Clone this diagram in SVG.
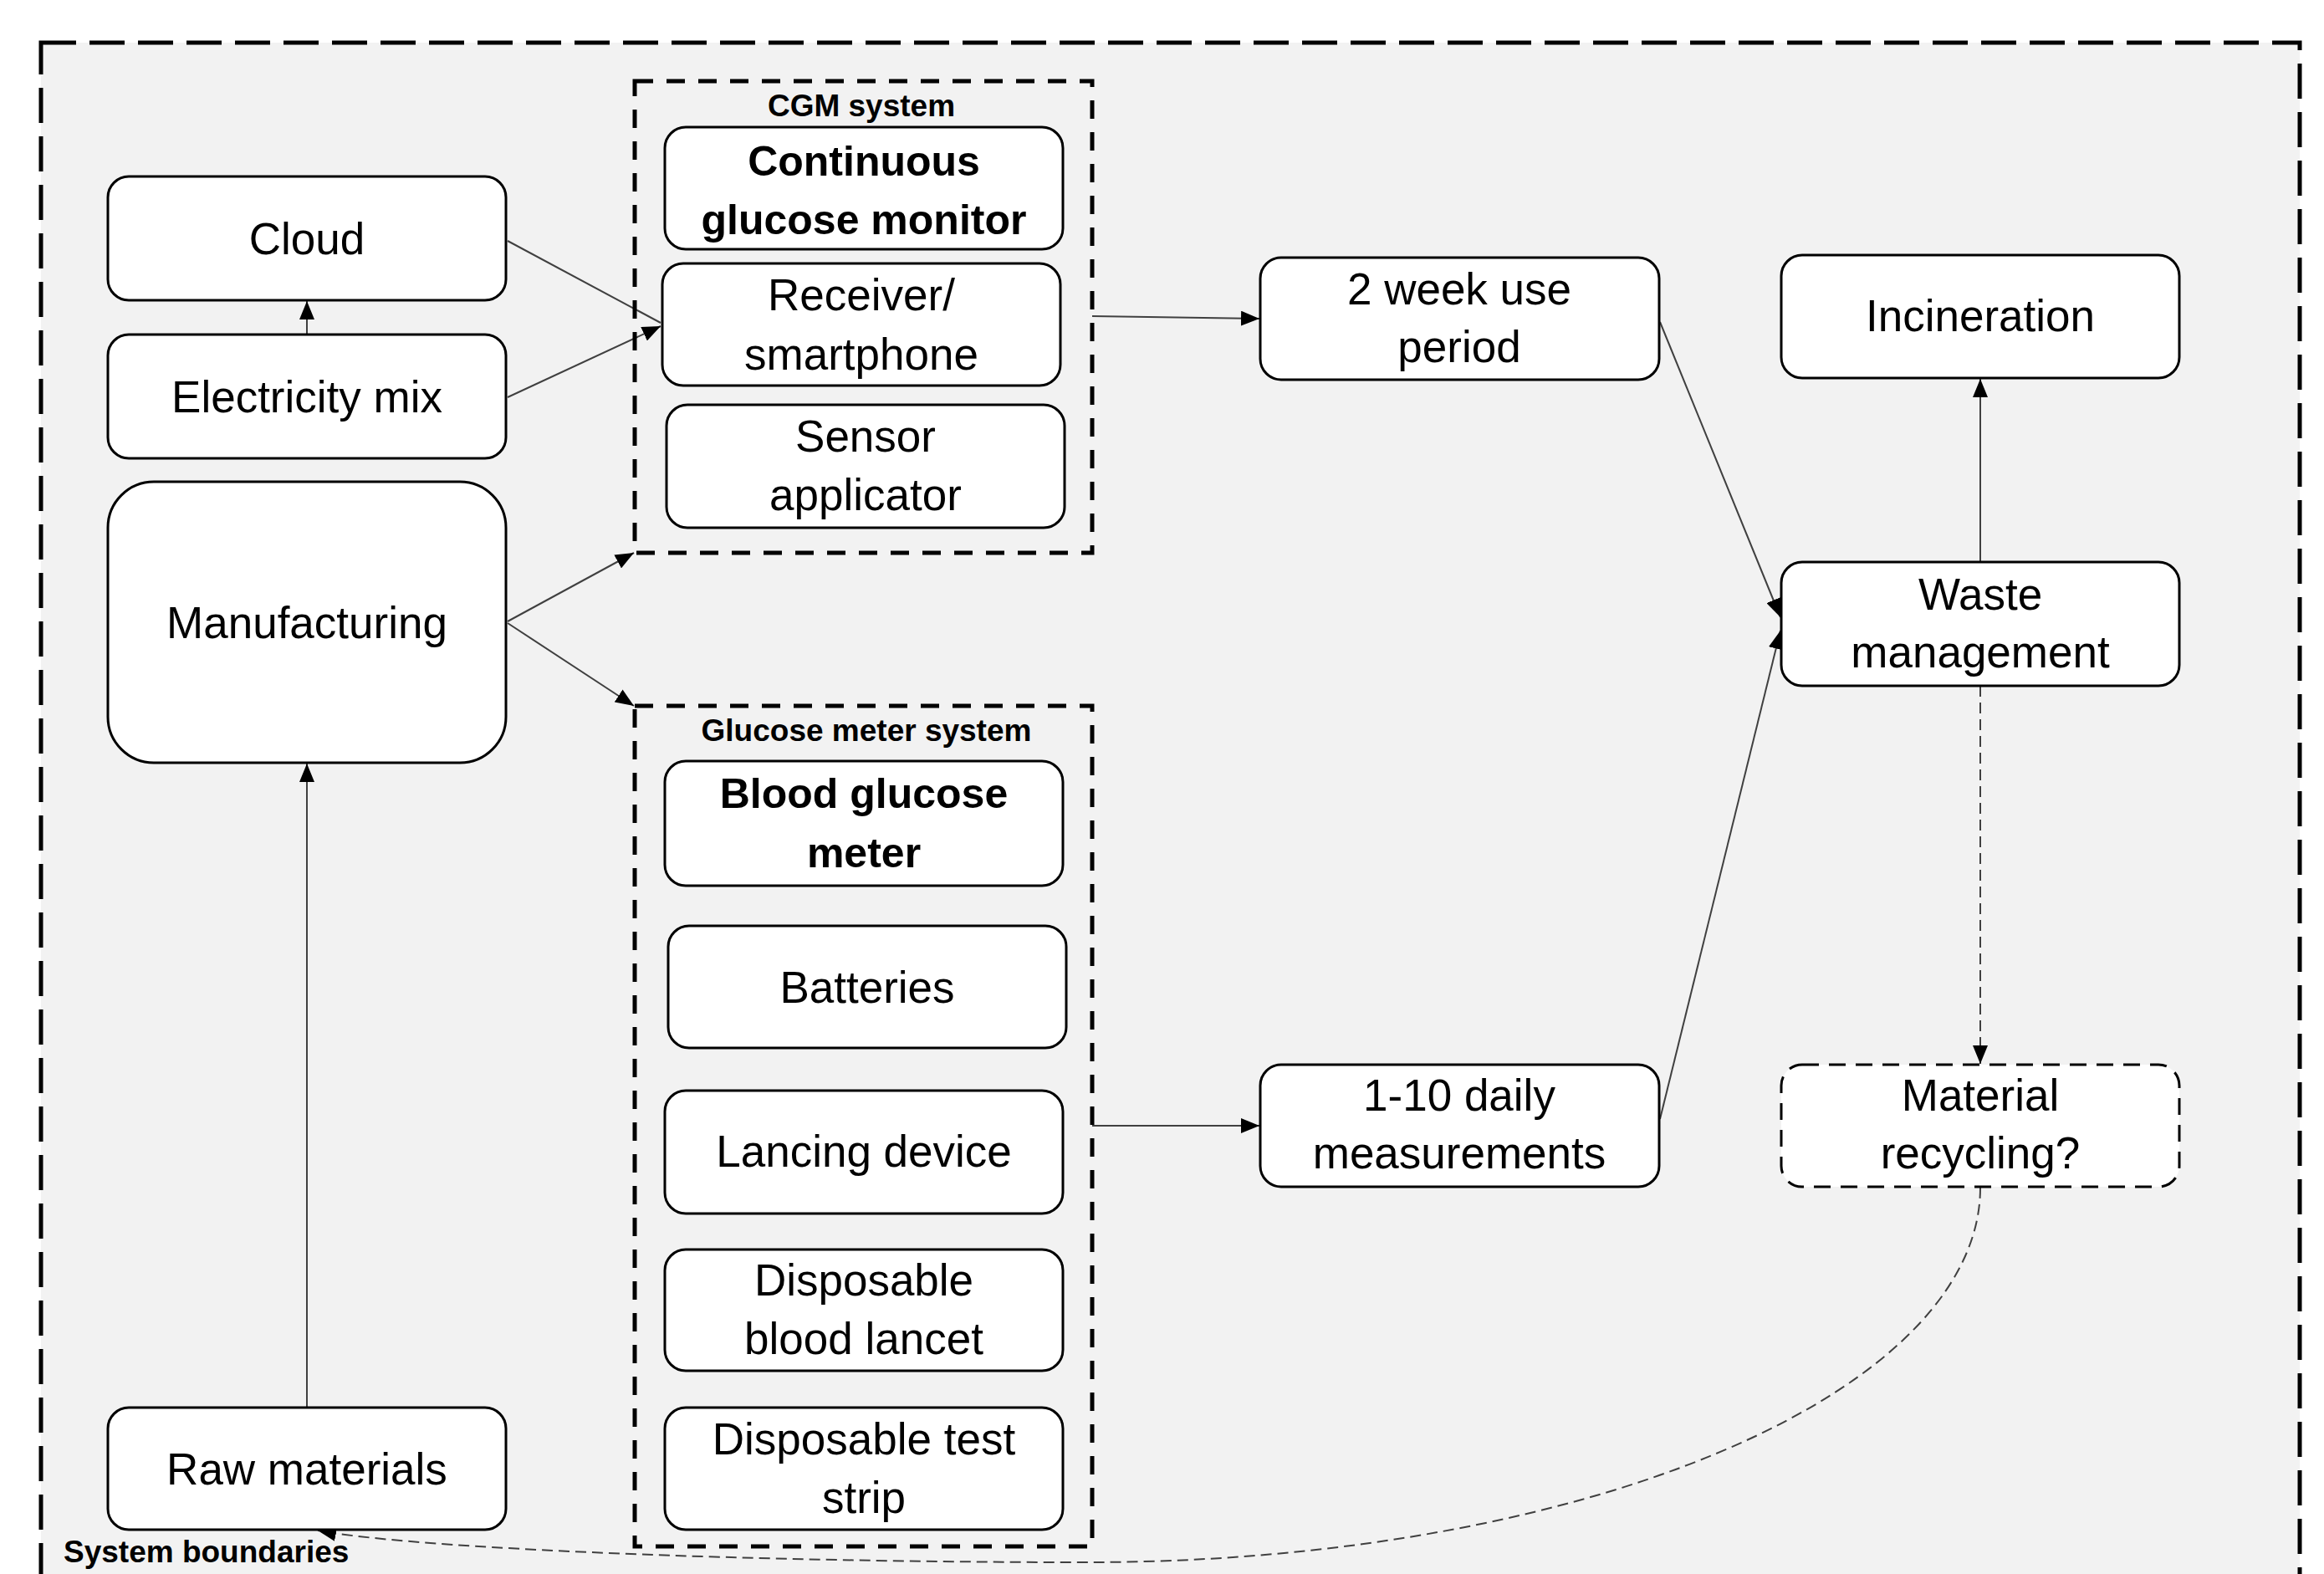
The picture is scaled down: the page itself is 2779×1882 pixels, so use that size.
<svg xmlns="http://www.w3.org/2000/svg" width="2779" height="1882" viewBox="0 0 2779 1882">
<style>
.box{fill:#fff;stroke:#000;stroke-width:3}
.dbox{fill:#fff;stroke:#000;stroke-width:3;stroke-dasharray:20 12}
.sys{fill:none;stroke:#000;stroke-width:5;stroke-dasharray:22 16}
.t{font-family:'Liberation Sans',Arial,sans-serif;font-size:53px;text-anchor:middle;fill:#000}
.b{font-weight:bold;font-size:50px}
.lbl{font-family:'Liberation Sans',Arial,sans-serif;font-weight:bold;font-size:37px;fill:#000}
.c{fill:none;stroke:#404040;stroke-width:2}
.cd{fill:none;stroke:#404040;stroke-width:2;stroke-dasharray:13 7}
</style>
<defs>
<marker id="ah" markerUnits="userSpaceOnUse" markerWidth="22" markerHeight="18" refX="22" refY="9" orient="auto">
<path d="M0,0 L22,9 L0,18 z" fill="#000"/>
</marker>
</defs>
<rect x="0" y="0" width="2779" height="1882" fill="#fff"/>
<rect id="system-boundary" x="49" y="51" width="2701" height="1900" fill="#f2f2f2" stroke="#000" stroke-width="5" stroke-dasharray="42 16"/>

<g id="connectors">
<line class="c" x1="367" y1="400" x2="367" y2="360" marker-end="url(#ah)"/>
<line class="c" x1="607" y1="288" x2="790" y2="386"/>
<line class="c" x1="607" y1="475" x2="790" y2="390" marker-end="url(#ah)"/>
<line class="c" x1="607" y1="743" x2="758" y2="661" marker-end="url(#ah)"/>
<line class="c" x1="607" y1="745" x2="758" y2="844" marker-end="url(#ah)"/>
<line class="c" x1="367" y1="1683" x2="367" y2="913" marker-end="url(#ah)"/>
<line class="c" x1="1306" y1="378" x2="1506" y2="381" marker-end="url(#ah)"/>
<line class="c" x1="1306" y1="1346" x2="1506" y2="1346" marker-end="url(#ah)"/>
<line class="c" x1="1985" y1="385" x2="2129" y2="738" marker-end="url(#ah)"/>
<line class="c" x1="1985" y1="1338" x2="2129" y2="754" marker-end="url(#ah)"/>
<line class="c" x1="2368" y1="672" x2="2368" y2="453" marker-end="url(#ah)"/>
<line class="cd" x1="2368" y1="820" x2="2368" y2="1272" marker-end="url(#ah)"/>
<path class="cd" d="M2368,1420 A1068,448 0 0 1 1300,1868 C900,1868 500,1852 380,1830" marker-end="url(#ah)"/>
</g>

<g id="cgm-system">
<rect class="sys" x="759" y="97" width="547" height="564"/>
<text class="lbl" x="1030" y="139" text-anchor="middle">CGM system</text>
</g>
<g id="glucose-meter-system">
<rect class="sys" x="759" y="844" width="547" height="1005"/>
<text class="lbl" x="1036" y="886" text-anchor="middle">Glucose meter system</text>
</g>

<g id="cloud"><rect class="box" x="129" y="211" width="476" height="148" rx="25"/><text class="t" x="367" y="304">Cloud</text></g>
<g id="electricity-mix"><rect class="box" x="129" y="400" width="476" height="148" rx="25"/><text class="t" x="367" y="493">Electricity mix</text></g>
<g id="manufacturing"><rect class="box" x="129" y="576" width="476" height="336" rx="55"/><text class="t" x="367" y="763">Manufacturing</text></g>
<g id="raw-materials"><rect class="box" x="129" y="1683" width="476" height="146" rx="25"/><text class="t" x="367" y="1775">Raw materials</text></g>

<g id="continuous-glucose-monitor"><rect class="box" x="795" y="152" width="476" height="146" rx="25"/><text class="t b" x="1033" y="210">Continuous</text><text class="t b" x="1033" y="280">glucose monitor</text></g>
<g id="receiver-smartphone"><rect class="box" x="792" y="315" width="476" height="146" rx="25"/><text class="t" x="1030" y="371">Receiver/</text><text class="t" x="1030" y="442">smartphone</text></g>
<g id="sensor-applicator"><rect class="box" x="797" y="484" width="476" height="147" rx="25"/><text class="t" x="1035" y="540">Sensor</text><text class="t" x="1035" y="610">applicator</text></g>

<g id="blood-glucose-meter"><rect class="box" x="795" y="910" width="476" height="149" rx="25"/><text class="t b" x="1033" y="966">Blood glucose</text><text class="t b" x="1033" y="1037">meter</text></g>
<g id="batteries"><rect class="box" x="799" y="1107" width="476" height="146" rx="25"/><text class="t" x="1037" y="1199">Batteries</text></g>
<g id="lancing-device"><rect class="box" x="795" y="1304" width="476" height="147" rx="25"/><text class="t" x="1033" y="1395">Lancing device</text></g>
<g id="disposable-blood-lancet"><rect class="box" x="795" y="1494" width="476" height="145" rx="25"/><text class="t" x="1033" y="1549">Disposable</text><text class="t" x="1033" y="1619">blood lancet</text></g>
<g id="disposable-test-strip"><rect class="box" x="795" y="1683" width="476" height="146" rx="25"/><text class="t" x="1033" y="1739">Disposable test</text><text class="t" x="1033" y="1809">strip</text></g>

<g id="two-week-use"><rect class="box" x="1507" y="308" width="477" height="146" rx="25"/><text class="t" x="1745" y="364">2 week use</text><text class="t" x="1745" y="433">period</text></g>
<g id="daily-measurements"><rect class="box" x="1507" y="1273" width="477" height="146" rx="25"/><text class="t" x="1745" y="1328">1-10 daily</text><text class="t" x="1745" y="1397">measurements</text></g>

<g id="incineration"><rect class="box" x="2130" y="305" width="476" height="147" rx="25"/><text class="t" x="2368" y="396">Incineration</text></g>
<g id="waste-management"><rect class="box" x="2130" y="672" width="476" height="148" rx="25"/><text class="t" x="2368" y="729">Waste</text><text class="t" x="2368" y="798">management</text></g>
<g id="material-recycling"><rect class="dbox" x="2130" y="1273" width="476" height="146" rx="25"/><text class="t" x="2368" y="1328">Material</text><text class="t" x="2368" y="1397">recycling?</text></g>

<text id="system-boundaries-label" class="lbl" x="76" y="1868">System boundaries</text>
</svg>
